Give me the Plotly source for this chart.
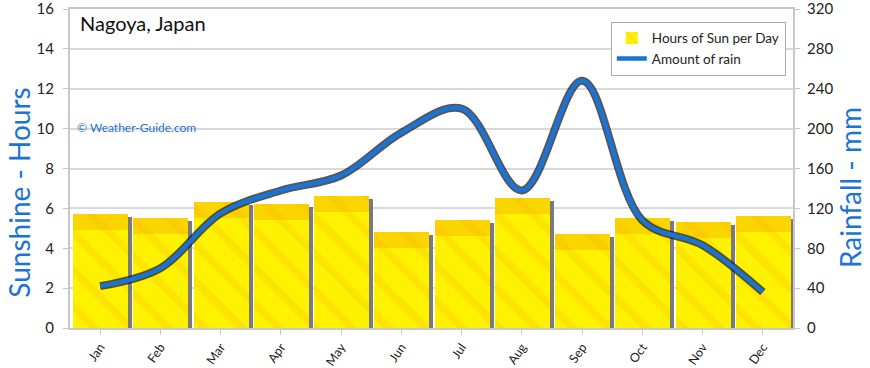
import plotly.graph_objects as go

months = ["Jan", "Feb", "Mar", "Apr", "May", "Jun", "Jul", "Aug", "Sep", "Oct", "Nov", "Dec"]
sun_hours = [5.7, 5.5, 6.3, 6.2, 6.6, 4.8, 5.4, 6.5, 4.7, 5.5, 5.3, 5.6]
rain_mm = [42, 60, 115, 138, 153, 196, 220, 138, 248, 108, 83, 36]

FONT = "Comic Sans MS, Lato, DejaVu Sans, sans-serif"
BLUE = "#1a73d6"
x = list(range(12))

fig = go.Figure()

# bar shadows
fig.add_trace(go.Bar(
    x=x, y=[v - 0.15 for v in sun_hours], width=0.913, offset=-0.38,
    marker=dict(color="#7a7a7a", line=dict(width=0)),
    showlegend=False, hoverinfo="skip"))
# yellow bars
fig.add_trace(go.Bar(
    x=x, y=sun_hours, width=0.913, offset=-0.45, name="Hours of Sun per Day",
    marker=dict(color="#FFF200", line=dict(width=0),
                pattern=dict(shape="\\", fgcolor="#F5B000", fgopacity=0.22,
                             bgcolor="#FFF200", size=26, solidity=0.3))))
# orange band near top of bars
fig.add_trace(go.Bar(
    x=x, y=[0.8] * 12, base=[v - 0.8 for v in sun_hours], width=0.913, offset=-0.45,
    marker=dict(color="rgba(245,170,0,0.4)", line=dict(width=0)),
    showlegend=False, hoverinfo="skip"))

# rain line shadow
fig.add_trace(go.Scatter(
    x=x, y=rain_mm, yaxis="y2", mode="lines",
    line=dict(color="rgba(30,30,30,0.75)", width=8, shape="spline", smoothing=1.0),
    showlegend=False, hoverinfo="skip"))
fig.add_trace(go.Scatter(
    x=x, y=rain_mm, yaxis="y2", mode="lines", name="Amount of rain",
    line=dict(color=BLUE, width=4.5, shape="spline", smoothing=1.0)))

fig.update_layout(
    width=870, height=368,
    margin=dict(l=70, r=77, t=9, b=40, autoexpand=False),
    paper_bgcolor="white", plot_bgcolor="white",
    barmode="overlay", bargap=0,
    font=dict(family=FONT, size=14, color="#222"),
    xaxis=dict(
        range=[-0.5, 11.5], tickmode="array", tickvals=x, ticktext=months,
        tickangle=-55, showgrid=False, showline=True, linecolor="#c8c8c8", linewidth=2,
        mirror=True,
        ticks="outside", ticklen=5, tickcolor="#c8c8c8", tickfont=dict(size=12.5, color="#222"),
        zeroline=False, automargin=False),
    yaxis=dict(
        range=[0, 16.002], tickmode="array", tickvals=[0, 2, 4, 6, 8, 10, 12, 14, 16],
        showgrid=True, gridcolor="#d9d9d9", gridwidth=2,
        showline=True, linecolor="#c8c8c8", linewidth=2, ticks="outside", ticklen=5,
        tickcolor="#c8c8c8", tickfont=dict(size=15, color="#222"), zeroline=False,
        ticklabelstandoff=6, automargin=False, ticklabeloverflow="allow"),
    yaxis2=dict(
        range=[0, 320.04], tickmode="array", tickvals=[0, 40, 80, 120, 160, 200, 240, 280, 320],
        overlaying="y", side="right", showgrid=False,
        showline=True, linecolor="#c8c8c8", linewidth=2, ticks="outside", ticklen=5,
        tickcolor="#c8c8c8", tickfont=dict(size=15, color="#222"), zeroline=False,
        ticklabelstandoff=4, automargin=False, ticklabeloverflow="allow"),
    legend=dict(x=0.748, y=0.96, xanchor="left", yanchor="top",
                bgcolor="white", bordercolor="#aaaaaa", borderwidth=1,
                font=dict(size=13.5, color="#222"), tracegroupgap=2),
    annotations=[
        dict(text="Nagoya, Japan", xref="paper", yref="paper", x=0.0, y=0.955,
             xanchor="left", yanchor="middle", showarrow=False, xshift=8,
             font=dict(size=20, color="#111")),
        dict(text="© Weather-Guide.com", xref="paper", yref="paper", x=0.0, y=0.63,
             xanchor="left", yanchor="middle", showarrow=False, xshift=5,
             font=dict(size=12, color=BLUE)),
        dict(text="Sunshine - Hours", xref="paper", yref="paper", x=-0.071, y=0.423,
             xanchor="center", yanchor="middle", showarrow=False, textangle=-90,
             font=dict(size=28, color=BLUE)),
        dict(text="Rainfall - mm", xref="paper", yref="paper", x=1.079, y=0.439,
             xanchor="center", yanchor="middle", showarrow=False, textangle=-90,
             font=dict(size=28, color=BLUE)),
    ],
)

fig.write_html("out.html", config={"displayModeBar": False},
               post_script=["document.body.style.margin='0';"])
